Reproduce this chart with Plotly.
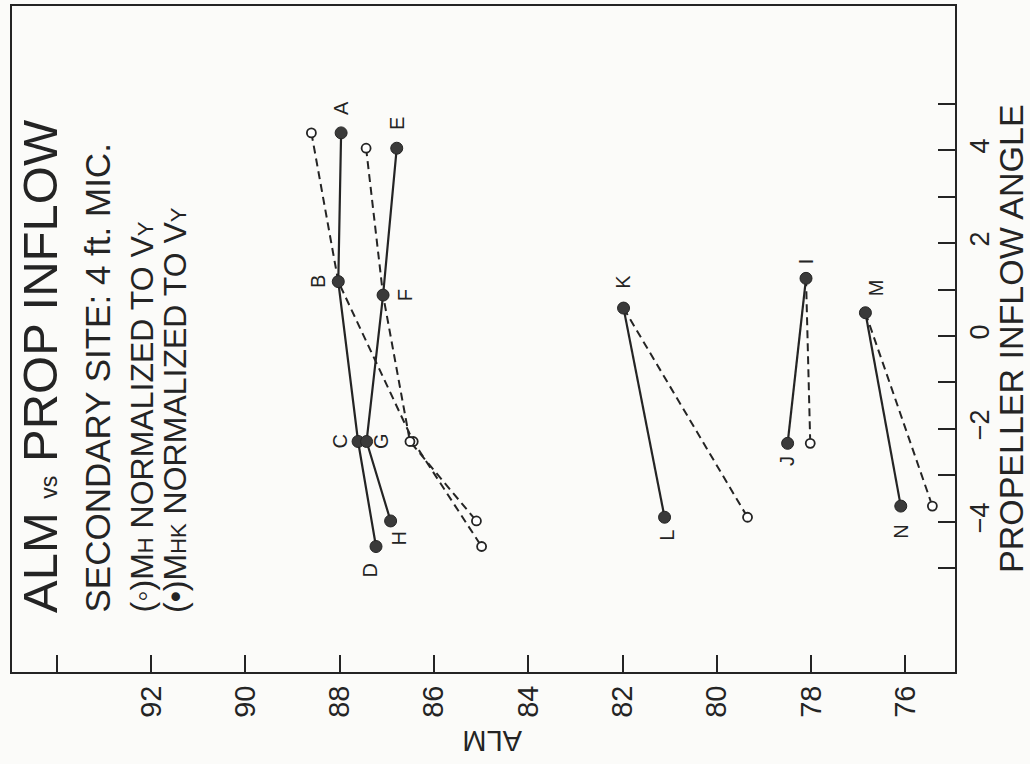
import plotly.graph_objects as go

# ---------------- data ----------------
labels = ["A", "B", "C", "D", "E", "F", "G", "H", "K", "L", "I", "J", "M", "N"]
angle = [4.37, 1.17, -2.27, -4.53, 4.04, 0.88, -2.27, -3.98, 0.60, -3.90, 1.24, -2.31, 0.50, -3.66]
alm_mhk = [87.97, 88.03, 87.61, 87.23, 86.79, 87.08, 87.43, 86.92, 81.98, 81.11, 78.11, 78.50, 76.85, 76.10]
alm_mh = [88.60, 88.03, 86.44, 84.99, 87.44, 87.08, 86.51, 85.10, 81.98, 79.35, 78.11, 78.02, 76.85, 75.43]
groups = [["A", "B", "C", "D"], ["E", "F", "G", "H"], ["K", "L"], ["I", "J"], ["M", "N"]]

alm_ticks = [94, 92, 90, 88, 86, 84, 82, 80, 78, 76]
alm_ticktext = ["", "92", "90", "88", "86", "84", "82", "80", "78", "76"]
ang_ticks = [-5, -4, -3, -2, -1, 0, 1, 2, 3, 4, 5]
ang_ticktext = ["", "\u22124", "", "\u22122", "", "0", "", "2", "", "4", ""]

# ---------------- styling / layout helpers ----------------
W, H = 1030, 764
PL, PR, PT, PB = 12, 955, 6, 672          # plot area in pixels
FONT = "Liberation Sans, Arial, Helvetica, sans-serif"
INK = "#242424"

def px_x(x):
    return (x - PL) / (PR - PL)

def px_y(y):
    return (PB - y) / (PB - PT)

label_offset = {  # (dx right, dy down) in pixels
    "A": (0, -25), "B": (-21, 0), "C": (-18, 0), "D": (-6, 24),
    "E": (0, -25), "F": (22, 0), "G": (15, 0), "H": (8, 18),
    "K": (0, -26), "L": (3, 18), "I": (0, -17), "J": (0, 18),
    "M": (10, -25), "N": (0, 26),
}

idx = {lab: i for i, lab in enumerate(labels)}

fig = go.Figure()

for g in groups:
    ii = [idx[l] for l in g]
    # open circles, dashed (M_H normalized)
    fig.add_trace(go.Scatter(
        x=[alm_mh[i] for i in ii], y=[angle[i] for i in ii],
        mode="lines+markers",
        line=dict(color=INK, width=2, dash="8px,5px"),
        marker=dict(symbol="circle", size=9, color="white",
                    line=dict(color=INK, width=1.8)),
        showlegend=False, hoverinfo="skip"))
for g in groups:
    ii = [idx[l] for l in g]
    # filled circles, solid (M_HK normalized)
    fig.add_trace(go.Scatter(
        x=[alm_mhk[i] for i in ii], y=[angle[i] for i in ii],
        mode="lines+markers",
        line=dict(color=INK, width=2.2),
        marker=dict(symbol="circle", size=12, color="#3a3a3a",
                    line=dict(color=INK, width=1)),
        showlegend=False, hoverinfo="skip"))

annotations = []
for lab in labels:
    i = idx[lab]
    dx, dy = label_offset[lab]
    annotations.append(dict(
        x=alm_mhk[i], y=angle[i], xref="x", yref="y",
        text=lab, showarrow=False, textangle=-90,
        xshift=dx, yshift=-dy,
        font=dict(family=FONT, size=20, color=INK)))

# title block (rotated)
annotations.append(dict(
    x=px_x(40), y=px_y(615), xref="paper", yref="paper",
    xanchor="center", yanchor="bottom", textangle=-90, showarrow=False,
    text="ALM <span style='font-size:23px'>vs</span> PROP INFLOW",
    font=dict(family=FONT, size=49, color=INK)))
annotations.append(dict(
    x=px_x(97), y=px_y(615), xref="paper", yref="paper",
    xanchor="center", yanchor="bottom", textangle=-90, showarrow=False,
    text="SECONDARY SITE: 4 ft. MIC.",
    font=dict(family=FONT, size=35, color=INK)))
annotations.append(dict(
    x=px_x(141), y=px_y(615), xref="paper", yref="paper",
    xanchor="center", yanchor="bottom", textangle=-90, showarrow=False,
    text="(\u25e6)M<span style='font-size:22px'>H</span> NORMALIZED TO V<span style='font-size:22px'>Y</span>",
    font=dict(family=FONT, size=32, color=INK)))
annotations.append(dict(
    x=px_x(175), y=px_y(615), xref="paper", yref="paper",
    xanchor="center", yanchor="bottom", textangle=-90, showarrow=False,
    text="(\u2022)M<span style='font-size:22px'>HK</span> NORMALIZED TO V<span style='font-size:22px'>Y</span>",
    font=dict(family=FONT, size=32, color=INK)))
# upside-down ALM axis label
annotations.append(dict(
    x=px_x(492), y=px_y(741), xref="paper", yref="paper",
    xanchor="center", yanchor="middle", textangle=180, showarrow=False,
    text="ALM", font=dict(family=FONT, size=29, color=INK)))
# right-side axis title (reads bottom to top)
annotations.append(dict(
    x=px_x(1011), y=px_y(339), xref="paper", yref="paper",
    xanchor="center", yanchor="middle", textangle=-90, showarrow=False,
    text="PROPELLER INFLOW ANGLE", font=dict(family=FONT, size=34, color=INK)))

fig.update_layout(
    width=W, height=H,
    margin=dict(l=PL, r=W - PR, t=PT, b=H - PB, pad=0),
    paper_bgcolor="#fbfbf9", plot_bgcolor="#fbfbf9",
    showlegend=False,
    annotations=annotations,
    xaxis=dict(
        range=[94.95, 74.95], tickmode="array",
        tickvals=alm_ticks, ticktext=alm_ticktext,
        ticks="inside", ticklen=17, tickwidth=2, tickcolor=INK,
        tickangle=-90, tickfont=dict(family=FONT, size=29, color=INK),
        showline=True, linewidth=2, linecolor=INK, mirror=True,
        showgrid=False, zeroline=False, automargin=False),
    yaxis=dict(
        side="right", range=[-7.23, 7.1], tickmode="array",
        tickvals=ang_ticks, ticktext=ang_ticktext,
        ticks="inside", ticklen=17, tickwidth=2, tickcolor=INK,
        tickangle=-90, tickfont=dict(family=FONT, size=27, color=INK),
        ticklabelstandoff=0,
        showline=True, linewidth=2, linecolor=INK, mirror=True,
        showgrid=False, zeroline=False, automargin=False),
)

fig.write_html("out.html")
